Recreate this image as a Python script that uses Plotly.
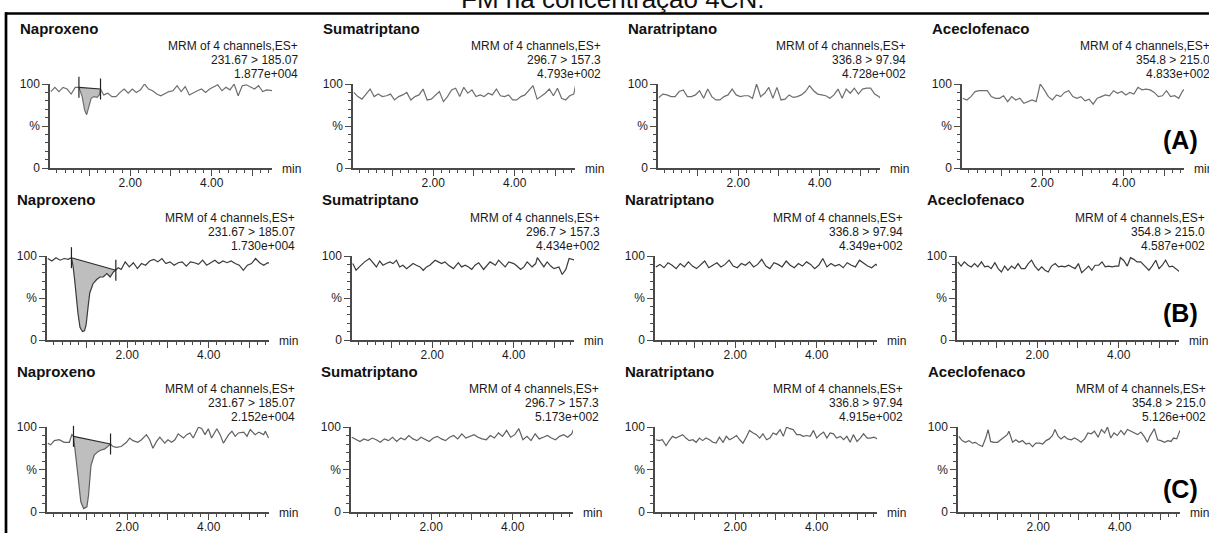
import plotly.graph_objects as go

W, H = 1209, 533

# ---------------- data (retention time in min, relative intensity in %) ----------------
T_GRID = [0.05, 0.15, 0.25, 0.35, 0.45, 0.55, 0.65, 0.75, 0.85, 0.95,
          1.05, 1.15, 1.25, 1.35, 1.45, 1.55, 1.65, 1.75, 1.85, 1.95,
          2.05, 2.15, 2.25, 2.35, 2.45, 2.55, 2.65, 2.75, 2.85, 2.95,
          3.05, 3.15, 3.25, 3.35, 3.45, 3.55, 3.65, 3.75, 3.85, 3.95,
          4.05, 4.15, 4.25, 4.35, 4.45, 4.55, 4.65, 4.75, 4.85, 4.95,
          5.05, 5.15, 5.25, 5.35, 5.45, 5.5]

# Row A
NAP_A_T = [0.05, 0.15, 0.25, 0.35, 0.45, 0.55, 0.65, 0.74, 0.82, 0.88, 0.93, 0.98, 1.04, 1.11, 1.19, 1.24, 1.27,
           1.35, 1.45, 1.55, 1.65, 1.75, 1.85, 1.95, 2.05, 2.15, 2.25, 2.35, 2.45, 2.55, 2.65, 2.75, 2.85, 2.95,
           3.05, 3.15, 3.25, 3.35, 3.45, 3.55, 3.65, 3.75, 3.85, 3.95, 4.05, 4.15, 4.25, 4.35, 4.45, 4.55, 4.65,
           4.75, 4.85, 4.95, 5.05, 5.15, 5.25, 5.35, 5.45, 5.5]
NAP_A_Y = [91, 96, 91, 96, 94, 88, 96, 96, 85, 69, 63.5, 73, 83, 85, 84, 87, 94,
           87, 89, 85, 85, 90, 94, 89, 94, 90, 93, 100, 94, 92, 88, 86, 89, 91,
           92, 98, 91, 97, 87, 90, 92, 94, 90, 94, 97, 99, 92, 96, 93, 100, 86,
           98, 99, 96, 94, 98, 91, 93, 92, 92]
SUMA_A_Y = [90, 85, 82, 88, 94, 85, 88, 85, 86, 88, 81, 85, 87, 90, 81, 85, 87, 94, 81, 82,
            87, 91, 79, 85, 93, 95, 85, 96, 89, 93, 85, 87, 85, 89, 87, 94, 86, 85, 87, 81,
            81, 85, 87, 92, 98, 82, 85, 89, 94, 86, 95, 83, 81, 86, 88, 100]
NARA_A_Y = [84, 88, 87, 85, 85, 91, 93, 85, 85, 87, 92, 83, 94, 85, 81, 81, 85, 87, 94, 87,
            85, 86, 86, 83, 100, 85, 89, 96, 83, 96, 81, 82, 87, 84, 85, 87, 91, 98, 92, 88,
            87, 86, 83, 87, 94, 83, 94, 89, 95, 88, 94, 95, 95, 88, 85, 83]
ACE_A_Y = [83, 81, 85, 91, 92, 92, 92, 85, 83, 83, 86, 79, 85, 81, 83, 77, 79, 81, 79, 100,
           93, 85, 81, 87, 85, 90, 92, 85, 83, 85, 80, 82, 76, 83, 85, 87, 86, 92, 89, 91,
           87, 90, 88, 96, 93, 94, 93, 90, 85, 86, 92, 85, 86, 83, 92, 94]

# Row B
NAP_B_T = [0.05, 0.15, 0.25, 0.35, 0.45, 0.55, 0.63, 0.67, 0.71, 0.75, 0.79, 0.84, 0.90, 0.95, 0.99, 1.04,
           1.08, 1.16, 1.25, 1.33, 1.41, 1.50, 1.58, 1.66, 1.72, 1.78, 1.85,
           1.95, 2.05, 2.15, 2.25, 2.35, 2.45, 2.55, 2.65, 2.75, 2.85, 2.95, 3.05, 3.15, 3.25, 3.35, 3.45,
           3.55, 3.65, 3.75, 3.85, 3.95, 4.05, 4.15, 4.25, 4.35, 4.45, 4.55, 4.65, 4.75, 4.85, 4.95, 5.05,
           5.15, 5.25, 5.35, 5.45, 5.5]
NAP_B_Y = [97, 94, 98, 95, 97, 96, 98, 88, 71, 50, 32, 15, 10, 11, 18, 40,
           56, 67, 72, 75, 75, 79, 75, 81, 83, 86, 84,
           93, 87, 92, 85, 91, 89, 94, 96, 93, 97, 91, 93, 89, 92, 93, 88,
           93, 92, 90, 95, 89, 92, 95, 91, 94, 92, 94, 91, 89, 83, 89, 91,
           97, 92, 89, 92, 91]
SUMA_B_T = [0.05, 0.13, 0.21, 0.34, 0.46, 0.54, 0.63, 0.71, 0.79, 0.87, 0.96, 1.04, 1.12, 1.20, 1.28, 1.37,
            1.45, 1.53, 1.61, 1.70, 1.78, 1.86, 1.94, 2.07, 2.15, 2.23, 2.31, 2.40, 2.52, 2.64, 2.72, 2.81,
            2.89, 2.97, 3.05, 3.14, 3.26, 3.34, 3.42, 3.55, 3.63, 3.71, 3.79, 3.88, 4.00, 4.08, 4.17, 4.25,
            4.33, 4.45, 4.54, 4.58, 4.66, 4.74, 4.82, 4.91, 4.99, 5.11, 5.19, 5.28, 5.36, 5.44, 5.50]
SUMA_B_Y = [91, 83, 87, 93, 97, 92, 87, 94, 89, 91, 93, 91, 95, 87, 89, 85,
            88, 91, 89, 87, 83, 87, 89, 95, 93, 91, 93, 89, 85, 92, 87, 89,
            87, 84, 89, 92, 84, 89, 93, 89, 95, 91, 87, 93, 91, 88, 84, 87,
            93, 87, 91, 98, 93, 87, 93, 88, 85, 87, 78, 84, 97, 96, 95]
NARA_B_Y = [87, 90, 86, 92, 89, 85, 91, 87, 93, 88, 85, 90, 94, 86, 89, 92, 87, 90, 95, 88,
            86, 91, 89, 93, 87, 90, 96, 88, 85, 92, 90, 87, 94, 89, 86, 91, 88, 93, 90, 85,
            89, 97, 87, 91, 88, 90, 86, 92, 89, 87, 95, 91, 88, 86, 90, 88]
ACE_B_T = [0.05, 0.13, 0.21, 0.30, 0.38, 0.46, 0.54, 0.63, 0.71, 0.79, 0.87, 0.96, 1.04, 1.12, 1.20, 1.28,
           1.37, 1.45, 1.53, 1.61, 1.70, 1.78, 1.86, 1.94, 2.03, 2.11, 2.19, 2.27, 2.35, 2.44, 2.52, 2.60,
           2.68, 2.77, 2.85, 2.93, 3.01, 3.09, 3.18, 3.26, 3.34, 3.42, 3.51, 3.59, 3.67, 3.75, 3.84, 3.92,
           4.00, 4.04, 4.12, 4.21, 4.29, 4.37, 4.45, 4.54, 4.66, 4.74, 4.82, 4.91, 4.99, 5.07, 5.15, 5.24,
           5.32, 5.40, 5.50]
ACE_B_Y = [93, 88, 93, 89, 87, 91, 87, 93, 87, 88, 85, 92, 85, 81, 88, 83,
           88, 85, 91, 85, 85, 91, 95, 88, 83, 87, 83, 81, 88, 91, 87, 88,
           87, 89, 87, 85, 91, 80, 84, 88, 83, 89, 89, 93, 87, 88, 87, 88,
           88, 98, 95, 88, 98, 96, 93, 93, 87, 83, 88, 95, 85, 89, 95, 87,
           88, 85, 81]

# Row C
NAP_C_T = [0.05, 0.12, 0.21, 0.33, 0.45, 0.58, 0.64, 0.68, 0.78, 0.86, 0.93, 1.01, 1.05, 1.11, 1.19, 1.28,
           1.36, 1.44, 1.52, 1.59, 1.65, 1.73, 1.85, 1.98, 2.06, 2.14, 2.26, 2.35, 2.47, 2.55, 2.63, 2.72,
           2.80, 2.92, 3.00, 3.09, 3.17, 3.25, 3.38, 3.46, 3.54, 3.62, 3.75, 3.83, 3.91, 3.99, 4.07, 4.20,
           4.28, 4.36, 4.49, 4.57, 4.65, 4.73, 4.86, 4.94, 5.02, 5.14, 5.23, 5.35, 5.39, 5.47]
NAP_C_Y = [81, 79, 84, 85, 82, 82, 91, 89, 47, 12, 4, 6, 20, 55, 67, 71,
           73, 74, 77, 80, 77, 76, 77, 82, 87, 84, 82, 85, 91, 85, 75, 83,
           88, 81, 85, 82, 85, 92, 87, 91, 93, 87, 100, 98, 91, 98, 87, 98,
           91, 81, 91, 95, 89, 93, 94, 89, 97, 91, 94, 91, 95, 87]
SUMA_C_Y = [88, 85, 83, 86, 84, 87, 85, 82, 86, 84, 88, 83, 87, 85, 90, 86, 84, 88, 85, 83,
            87, 89, 86, 84, 88, 90, 86, 92, 87, 89, 91, 88, 86, 85, 90, 87, 93, 89, 96, 88,
            91, 98, 85, 89, 84, 92, 86, 88, 90, 87, 85, 89, 91, 88, 92, 98]
NARA_C_T = [0.05, 0.13, 0.21, 0.30, 0.38, 0.46, 0.54, 0.63, 0.71, 0.79, 0.87, 0.96, 1.04, 1.12, 1.20, 1.28,
            1.37, 1.45, 1.53, 1.61, 1.70, 1.78, 1.86, 1.94, 2.03, 2.11, 2.19, 2.27, 2.35, 2.44, 2.52, 2.60,
            2.68, 2.77, 2.85, 2.93, 3.01, 3.10, 3.18, 3.26, 3.34, 3.42, 3.51, 3.59, 3.67, 3.75, 3.84, 3.92,
            4.00, 4.08, 4.17, 4.25, 4.33, 4.41, 4.49, 4.58, 4.66, 4.74, 4.82, 4.90, 4.99, 5.07, 5.15, 5.24,
            5.32, 5.40, 5.50]
NARA_C_Y = [85, 84, 85, 78, 84, 89, 87, 89, 91, 87, 84, 85, 82, 87, 84, 87,
            85, 82, 81, 88, 82, 89, 85, 87, 90, 85, 81, 88, 96, 93, 91, 87,
            92, 85, 87, 93, 91, 97, 89, 100, 98, 97, 91, 91, 89, 90, 89, 96,
            87, 91, 94, 87, 93, 92, 87, 89, 85, 89, 82, 91, 83, 87, 92, 87,
            87, 88, 86]
ACE_C_T = [0.05, 0.13, 0.21, 0.30, 0.38, 0.46, 0.54, 0.63, 0.71, 0.77, 0.83, 0.91, 1.00, 1.08, 1.16, 1.24,
           1.28, 1.37, 1.45, 1.53, 1.61, 1.70, 1.78, 1.86, 1.94, 2.03, 2.11, 2.19, 2.27, 2.35, 2.41, 2.49,
           2.56, 2.64, 2.72, 2.81, 2.89, 2.97, 3.05, 3.14, 3.22, 3.30, 3.38, 3.47, 3.55, 3.63, 3.70, 3.78,
           3.86, 3.94, 4.03, 4.11, 4.19, 4.27, 4.35, 4.44, 4.52, 4.60, 4.68, 4.74, 4.85, 4.93, 5.01, 5.10,
           5.18, 5.26, 5.32, 5.40, 5.48]
ACE_C_Y = [89, 84, 82, 84, 81, 82, 79, 77, 87, 97, 83, 82, 82, 85, 87, 91,
           95, 82, 85, 82, 84, 80, 81, 77, 81, 81, 80, 84, 86, 90, 97, 89,
           86, 89, 86, 85, 87, 85, 82, 86, 93, 92, 95, 88, 97, 93, 100, 87,
           93, 90, 96, 91, 97, 95, 93, 91, 94, 89, 82, 89, 98, 85, 84, 82,
           84, 83, 87, 86, 96]

# integrated Naproxeno peak (start, end) per row
NAP_PEAKS = [(0.74, 1.27), (0.63, 1.72), (0.68, 1.59)]

DRUGS = ["Naproxeno", "Sumatriptano", "Naratriptano", "Aceclofenaco"]
TRANSITIONS = ["231.67 > 185.07", "296.7 > 157.3", "336.8 > 97.94", "354.8 > 215.0"]
INTENSITIES = [["1.877e+004", "4.793e+002", "4.728e+002", "4.833e+002"],
               ["1.730e+004", "4.434e+002", "4.349e+002", "4.587e+002"],
               ["2.152e+004", "5.173e+002", "4.915e+002", "5.126e+002"]]
ROW_LABELS = ["(A)", "(B)", "(C)"]
X_TICKS = [1, 2, 3, 4, 5]
X_TICKTEXT = ["", "2.00", "", "4.00", ""]
Y_TICKS = [0, 50, 100]
Y_TICKTEXT = ["0", "%", "100"]

SERIES = [
    [(NAP_A_T, NAP_A_Y), (T_GRID, SUMA_A_Y), (T_GRID, NARA_A_Y), (T_GRID, ACE_A_Y)],
    [(NAP_B_T, NAP_B_Y), (SUMA_B_T, SUMA_B_Y), (T_GRID, NARA_B_Y), (ACE_B_T, ACE_B_Y)],
    [(NAP_C_T, NAP_C_Y), (T_GRID, SUMA_C_Y), (NARA_C_T, NARA_C_Y), (ACE_C_T, ACE_C_Y)],
]

# ---------------- layout geometry (pixels) ----------------
ROWS = [dict(top=84, bot=168, x0=[50, 353, 658, 962], lab_y=140, color="#6e6e6e"),
        dict(top=256, bot=340, x0=[47, 352, 655, 957], lab_y=313, color="#3a3a3a"),
        dict(top=427, bot=512, x0=[47, 351, 655, 958], lab_y=489, color="#606060")]
PLOT_W = 222
X_RANGE = [0.03, 5.48]
FONT = "Arial, Liberation Sans, sans-serif"
AX_COLOR = "#4a4a4a"


def px(x):
    return x / W


def py(y):
    return 1 - y / H


def note(text, x, y, xanchor, size, color="#1a1a1a"):
    return dict(text=text, x=px(x), y=py(y), xref="paper", yref="paper",
                xanchor=xanchor, yanchor="middle", showarrow=False,
                font=dict(family=FONT, size=size, color=color))


fig = go.Figure()
annotations = []
layout_axes = {}

for r, row in enumerate(ROWS):
    for c in range(4):
        k = r * 4 + c + 1
        xs = "x" if k == 1 else f"x{k}"
        ys = "y" if k == 1 else f"y{k}"
        xname = "xaxis" if k == 1 else f"xaxis{k}"
        yname = "yaxis" if k == 1 else f"yaxis{k}"
        x0 = row["x0"][c]
        t, v = SERIES[r][c]

        # integrated peak (Naproxeno)
        if c == 0:
            ps, pe = NAP_PEAKS[r]
            idx = [i for i, tt in enumerate(t) if ps - 1e-9 <= tt <= pe + 1e-9]
            ys_start = v[idx[0]]
            ys_end = v[idx[-1]]
            poly_x = [t[i] for i in idx] + [pe, ps]
            poly_y = [v[i] for i in idx] + [ys_end, ys_start]
            fig.add_trace(go.Scatter(x=poly_x, y=poly_y, xaxis=xs, yaxis=ys, mode="lines",
                                     fill="toself", fillcolor="#bebebe",
                                     line=dict(width=0, color="rgba(0,0,0,0)"),
                                     hoverinfo="skip", showlegend=False))

        fig.add_trace(go.Scatter(x=t, y=v, xaxis=xs, yaxis=ys, mode="lines",
                                 line=dict(color=row["color"], width=1.2),
                                 showlegend=False, hoverinfo="skip"))

        if c == 0:
            fig.add_trace(go.Scatter(x=[ps, pe], y=[ys_start, ys_end], xaxis=xs, yaxis=ys,
                                     mode="lines+markers",
                                     line=dict(color="#2a2a2a", width=1.1),
                                     marker=dict(symbol="line-ns", size=15,
                                                 line=dict(width=1.2, color="#222222")),
                                     cliponaxis=False, showlegend=False, hoverinfo="skip"))

        layout_axes[xname] = dict(
            domain=[px(x0), px(x0 + PLOT_W)], range=X_RANGE, anchor=ys,
            showline=True, linecolor=AX_COLOR, linewidth=1.5,
            ticks="outside", ticklen=6, tickwidth=1, tickcolor=AX_COLOR,
            tickmode="array", tickvals=X_TICKS, ticktext=X_TICKTEXT,
            ticklabelstandoff=-3,
            tickfont=dict(family=FONT, size=12, color="#1a1a1a"),
            showgrid=False, zeroline=False, fixedrange=True, automargin=False,
            minor=dict(tickmode="linear", tick0=0, dtick=0.2, ticks="outside",
                       ticklen=3.5, tickwidth=1, tickcolor=AX_COLOR, showgrid=False))
        layout_axes[yname] = dict(
            domain=[py(row["bot"]), py(row["top"])], range=[0, 100], anchor=xs,
            showline=True, linecolor=AX_COLOR, linewidth=1.5,
            ticks="outside", ticklen=6, tickwidth=1, tickcolor=AX_COLOR,
            tickmode="array", tickvals=Y_TICKS, ticktext=Y_TICKTEXT,
            tickfont=dict(family=FONT, size=12, color="#1a1a1a"),
            showgrid=False, zeroline=False, fixedrange=True, automargin=False,
            minor=dict(tickmode="linear", tick0=0, dtick=10, ticks="outside",
                       ticklen=3.5, tickwidth=1, tickcolor=AX_COLOR, showgrid=False))

        top = row["top"]
        annotations.append(note("<b>" + DRUGS[c] + "</b>", x0 - 32, top - 56, "left", 15, "#111111"))
        for j, line in enumerate(["MRM of 4 channels,ES+", TRANSITIONS[c], INTENSITIES[r][c]]):
            annotations.append(note(line, x0 + 250, top - 38 + 14 * j, "right", 12))
        annotations.append(note("min", x0 + PLOT_W + 8, row["bot"] + 1, "left", 12))

    annotations.append(note("<b>" + ROW_LABELS[r] + "</b>", 1180, row["lab_y"], "center", 25, "#000000"))

annotations.append(note("FM na concentração 4CN.", 612, -1.5, "center", 26, "#111111"))

shapes = [
    dict(type="line", xref="paper", yref="paper", x0=px(5), x1=1, y0=py(13.5), y1=py(13.5),
         line=dict(color="#000000", width=2.7)),
    dict(type="line", xref="paper", yref="paper", x0=px(6), x1=px(6), y0=py(12.2), y1=0,
         line=dict(color="#000000", width=2.7)),
]

fig.update_layout(width=W, height=H, margin=dict(l=0, r=0, t=0, b=0, pad=0, autoexpand=False),
                  paper_bgcolor="white", plot_bgcolor="white",
                  showlegend=False, annotations=annotations, shapes=shapes,
                  **layout_axes)

fig.write_html("out.html")
